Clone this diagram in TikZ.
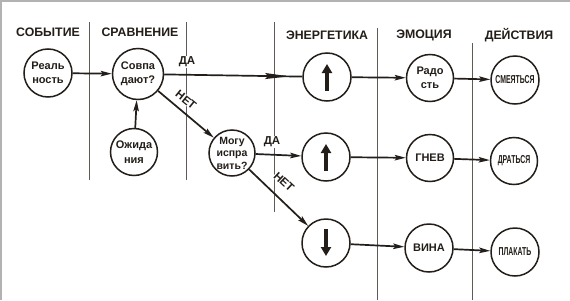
\documentclass[tikz,border=0pt]{standalone}
\usepackage{fontspec}
\setmainfont{Liberation Sans}
\usetikzlibrary{arrows.meta,decorations.markings}
\definecolor{ink}{RGB}{35,30,25}
\definecolor{rulec}{RGB}{95,90,85}
\begin{document}
\begin{tikzpicture}[x=1pt,y=-1pt,
  hdr/.style={font=\bfseries\fontsize{12.3}{13}\selectfont, text=ink, inner sep=1pt},
  circ/.style={circle, draw=ink, line width=1.5pt, minimum size=48pt, inner sep=0pt,
    align=center, text=ink, font=\bfseries\fontsize{11}{14.5}\selectfont},
  small/.style={font=\bfseries\fontsize{10.5}{12.5}\selectfont},
  cond/.style={font=\bfseries\fontsize{11.5}{13}\selectfont},
  divider/.style={draw=rulec, line width=0.8pt},
  conn/.style={draw=ink, line width=1.7pt, -{Stealth[length=11pt,width=5.5pt,inset=2pt]}},
  lbl/.style={fill=white, inner sep=0.5pt, text=ink, font=\bfseries\fontsize{11.5}{12}\selectfont},
  energy/.style={draw=ink, line width=3.6pt, -{Triangle[length=9pt,width=10pt]}},
]
\useasboundingbox (0,0) rectangle (570,300);
\fill[white] (0,0) rectangle (570,300);
\draw[gray!60, line width=1.5pt] (0.75,300) -- (0.75,0.75) -- (570,0.75);

% dividers
\draw[divider] (89,22) -- (89,180);
\draw[divider] (186,22) -- (186,180);
\draw[divider] (274,22) -- (274,212);
\draw[divider] (377,28) -- (377,300);
\draw[divider] (472,43) -- (472,300);

% headers
\node[hdr] (h1) at (48,32.5) {СОБЫТИЕ};
\node[hdr] (h2) at (140,32.5) {СРАВНЕНИЕ};
\node[hdr] (h3) at (327,35) {ЭНЕРГЕТИКА};
\node[hdr] (h4) at (424,35) {ЭМОЦИЯ};
\node[hdr] (h5) at (519,35.5) {ДЕЙСТВИЯ};

% nodes
\node[circ] (R) at (48,73) {Реаль\\ность};
\node[circ, minimum size=51pt] (S) at (138,74) {Совпа\\дают?};
\node[circ, minimum size=47pt] (O) at (134,152) {Ожида\\ния};
\node[circ, minimum size=46pt, small] (M) at (232,153) {Могу\\испра\\вить?};
\node[circ] (U1) at (327,77) {};
\node[circ, minimum size=47pt] (J) at (430,78) {Радо\\сть};
\node[circ, cond] (SM) at (515,80) {\scalebox{0.6}[1]{СМЕЯТЬСЯ}};
\node[circ] (U2) at (326,157) {};
\node[circ, minimum size=47pt] (G) at (430,158) {ГНЕВ};
\node[circ, minimum size=47pt, cond] (D) at (514,161) {\scalebox{0.6}[1]{ДРАТЬСЯ}};
\node[circ] (U3) at (326,243) {};
\node[circ] (V) at (429,248) {ВИНА};
\node[circ, cond] (P) at (515,252) {\scalebox{0.6}[1]{ПЛАКАТЬ}};

% energy arrows
\draw[energy] ([yshift=-14pt]U1.center) -- ([yshift=13pt]U1.center);
\draw[energy] ([yshift=-14pt]U2.center) -- ([yshift=13pt]U2.center);
\draw[energy] ([yshift=14pt]U3.center) -- ([yshift=-13pt]U3.center);

% connectors
\draw[conn] (R) -- (S);
\draw[conn] (O) -- (S);
\draw[draw=ink, line width=1.7pt,
  postaction={decorate, decoration={markings,
    mark=at position 0.905 with {\arrow{Stealth[length=24pt,width=6pt,inset=3pt]}}}}]
  (S) -- (U1);
\draw[conn] (S) -- (M);
\draw[conn] (M) -- (U2);
\draw[conn] (M) -- (U3);
\draw[conn] (U1) -- (J);
\draw[conn] (J) -- (SM);
\draw[conn] (U2) -- (G);
\draw[conn] (G) -- (D);
\draw[conn] (U3) -- (V);
\draw[conn] (V) -- (P);

% labels
\node[lbl] (da1) at (187,62) {ДА};
\node[lbl, rotate=-39] (net1) at (186,100) {НЕТ};
\node[lbl] (da2) at (272,142) {ДА};
\node[lbl, rotate=-43] (net2) at (284,182) {НЕТ};
\end{tikzpicture}
\end{document}
